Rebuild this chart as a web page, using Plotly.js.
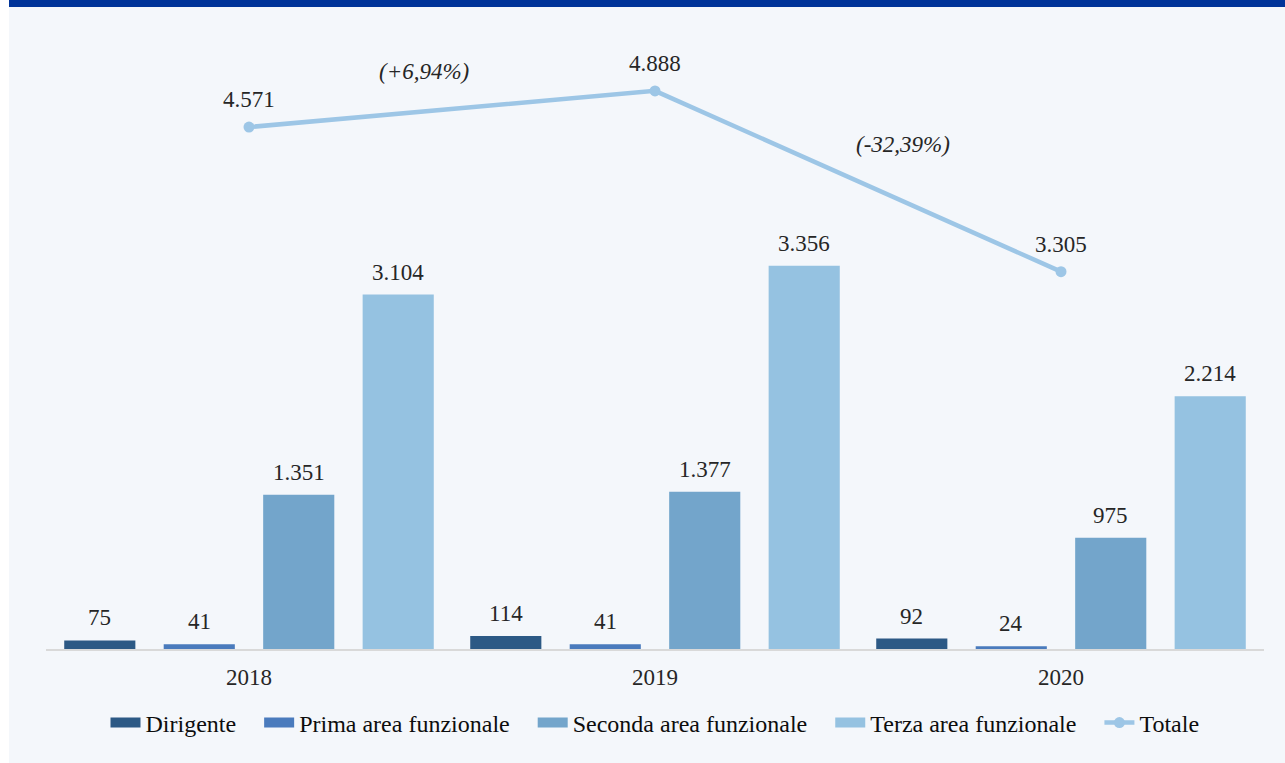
<!DOCTYPE html>
<html>
<head>
<meta charset="utf-8">
<script src="https://cdn.plot.ly/plotly-3.0.1.min.js"></script>
<style>
  html, body { margin: 0; padding: 0; background: #ffffff; width: 1285px; height: 763px; overflow: hidden; }
  #topbar { position: absolute; left: 9px; top: 0; width: 1276px; height: 7px; background: #003399; }
  #chart { position: absolute; left: 9px; top: 7px; width: 1276px; height: 756px; }
</style>
</head>
<body>
<div id="topbar"></div>
<div id="chart"></div>
<script>
const years = ["2018", "2019", "2020"];
const seriesNames = ["Dirigente", "Prima area funzionale", "Seconda area funzionale", "Terza area funzionale"];
const dirigente = [75, 114, 92];
const primaArea = [41, 41, 24];
const secondaArea = [1351, 1377, 975];
const terzaArea = [3104, 3356, 2214];
const totale = [4571, 4888, 3305];
const variazioni = ["(+6,94%)", "(-32,39%)"];

const font = "Liberation Serif, Times New Roman, serif";
const txtColor = "#262626";
const colors = ["#2c5985", "#4a7bbd", "#73a5cb", "#95c2e1"];
const lineColor = "#9dc6e6";
const bargap = 0.02;
const pad = "\u00a0\u00a0\u00a0";

function fmt(n) { return String(n).replace(/\B(?=(\d{3})+(?!\d))/g, "."); }

const seriesVals = [dirigente, primaArea, secondaArea, terzaArea];
const traces = [];
const annotations = [];
const slot = (1 - bargap) / seriesVals.length;

seriesVals.forEach((vals, i) => {
  traces.push({
    type: "bar", name: seriesNames[i], x: years, y: vals,
    marker: { color: colors[i] }, showlegend: false, hoverinfo: "skip"
  });
  vals.forEach((v, j) => {
    annotations.push({
      x: j + (i - (seriesVals.length - 1) / 2) * slot, y: v, xref: "x", yref: "y",
      text: fmt(v), showarrow: false, yanchor: "bottom", yshift: 8,
      font: { family: font, size: 23, color: txtColor }
    });
  });
});

// legend entries (wide rectangular swatches like the original)
seriesVals.forEach((vals, i) => {
  traces.push({
    type: "scatter", mode: "lines", name: seriesNames[i] + pad, x: [null], y: [null],
    line: { color: colors[i], width: 11 }, hoverinfo: "skip"
  });
});

traces.push({
  type: "scatter", mode: "lines+markers", name: "Totale",
  x: years, y: totale,
  line: { color: lineColor, width: 4.5 },
  marker: { color: lineColor, size: 11 },
  cliponaxis: false, hoverinfo: "skip"
});
totale.forEach((v, j) => {
  annotations.push({
    x: j, y: v, xref: "x", yref: "y", text: fmt(v), showarrow: false,
    yanchor: "bottom", yshift: 13,
    font: { family: font, size: 23, color: txtColor }
  });
});

annotations.push(
  { x: 0.43, y: 5060, xref: "x", yref: "y", text: "<i>" + variazioni[0] + "</i>", showarrow: false,
    font: { family: font, size: 23, color: txtColor } },
  { x: 1.61, y: 4420, xref: "x", yref: "y", text: "<i>" + variazioni[1] + "</i>", showarrow: false,
    font: { family: font, size: 23, color: txtColor } }
);

const layout = {
  width: 1276, height: 756,
  margin: { l: 37, r: 21, t: 14, b: 114 },
  paper_bgcolor: "#f4f7fb", plot_bgcolor: "#f4f7fb",
  separators: ",.",
  barmode: "group", bargap: bargap, bargroupgap: 0.285,
  font: { family: font, color: txtColor, size: 22 },
  xaxis: {
    type: "category", range: [-0.5, 2.5],
    showline: true, linecolor: "#d9d9d9", linewidth: 2,
    ticks: "", showgrid: false, ticklabelstandoff: 6,
    tickfont: { family: font, size: 23, color: txtColor }
  },
  yaxis: {
    range: [0, 5500], visible: false, showgrid: false, zeroline: false
  },
  showlegend: true,
  legend: {
    orientation: "h", x: 0.5, xanchor: "center", y: -0.082, yanchor: "top",
    font: { family: font, size: 24, color: "#0d0d0d" },
    itemwidth: 30, tracegroupgap: 0, traceorder: "normal"
  },
  annotations: annotations
};

Plotly.newPlot("chart", traces, layout, { displayModeBar: false, staticPlot: true });
</script>
</body>
</html>
